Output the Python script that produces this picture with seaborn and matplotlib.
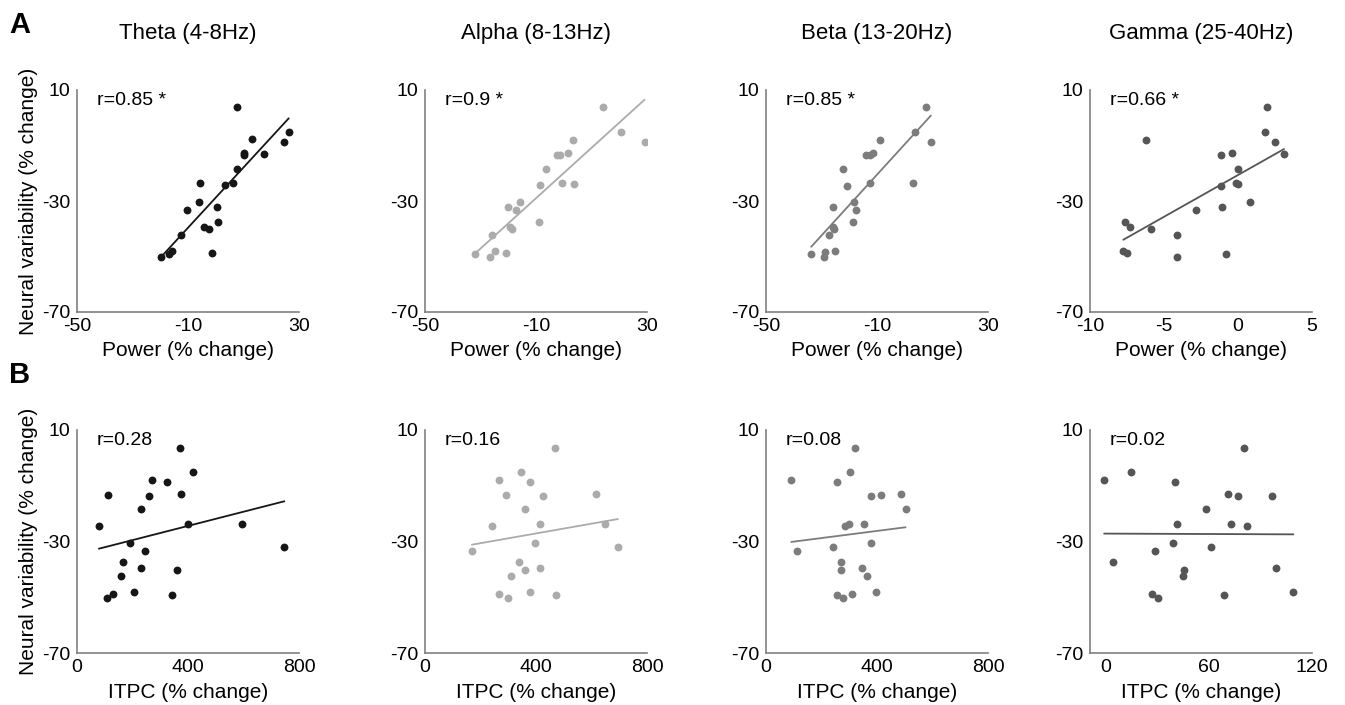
import matplotlib
matplotlib.use("Agg")
import matplotlib.pyplot as plt
import seaborn as sns
import pandas as pd

sns.set_style("white")
plt.rcParams['font.family'] = ['Liberation Sans', 'DejaVu Sans']
plt.rcParams['text.color'] = 'black'
plt.rcParams['axes.labelcolor'] = 'black'

# ---------------- data ----------------
bands = ["Theta (4-8Hz)", "Alpha (8-13Hz)", "Beta (13-20Hz)", "Gamma (25-40Hz)"]
band_colors = ["#161616", "#ababab", "#7c7c7c", "#555555"]

# Row A: power vs neural variability
theta_power = [7.6, 26.3, 13.2, 24.6, 10.0, 10.2, 17.5, 7.5, -5.6, 3.2, 6.3,
               -5.9, 0.3, -10.5, 0.9, -4.3, -2.3, -12.4, -1.5, -15.6, -16.8, -19.9]
theta_power_nv = [4.0, -5.0, -7.7, -8.6, -12.8, -13.5, -13.1, -18.3, -23.6, -24.4, -23.5,
                  -30.4, -32.1, -33.3, -37.5, -39.4, -40.1, -42.2, -48.6, -47.9, -49.2, -50.2]

alpha_power = [14.3, 20.7, 3.4, 29.1, -2.5, -1.3, 1.7, -6.5, -8.4, -0.8, 3.8,
               -15.6, -20.0, -17.3, -8.9, -19.3, -18.6, -25.7, -20.9, -24.7, -26.4, -32.1]
alpha_power_nv = [4.0, -5.0, -7.9, -8.6, -13.5, -13.3, -12.8, -18.3, -24.4, -23.5, -23.7,
                  -30.4, -32.1, -33.3, -37.5, -39.4, -40.1, -42.2, -48.6, -47.9, -50.3, -49.2]

beta_power = [7.8, 3.8, -8.9, 9.4, -14.0, -12.5, -11.3, -22.1, -20.7, -12.6, 3.1,
              -18.4, -25.9, -17.7, -18.6, -25.9, -25.4, -27.4, -25.1, -28.9, -29.0, -33.7]
beta_power_nv = [4.0, -5.0, -7.9, -8.6, -13.6, -13.4, -12.8, -18.3, -24.5, -23.6, -23.6,
                 -30.4, -32.1, -33.3, -37.5, -39.5, -40.1, -42.2, -47.9, -48.5, -50.2, -49.2]

gamma_power = [1.97, 1.83, -6.25, 2.53, -1.15, -0.41, 3.11, 0.02, -1.13, -0.12, -0.03,
               0.78, -1.08, -2.84, -7.64, -7.33, -5.87, -4.09, -0.79, -7.75, -7.48, -4.09]
gamma_power_nv = [4.0, -5.0, -7.9, -8.6, -13.5, -12.8, -13.1, -18.3, -24.5, -23.6, -23.7,
                  -30.4, -32.1, -33.3, -37.5, -39.4, -40.1, -42.2, -49.2, -47.9, -48.6, -50.3]

# Row B: ITPC vs neural variability
theta_itpc = [370, 419, 272, 323, 111, 259, 374, 229, 79, 401, 596,
              190, 747, 244, 164, 231, 360, 157, 205, 128, 343, 108]
theta_itpc_nv = [3.7, -5.2, -8.1, -8.7, -13.3, -13.6, -13.0, -18.4, -24.6, -23.7, -23.7,
                 -30.6, -32.1, -33.3, -37.5, -39.6, -40.1, -42.2, -48.1, -48.7, -49.3, -50.3]

alpha_itpc = [468, 347, 267, 377, 291, 424, 617, 359, 240, 414, 647,
              396, 695, 169, 339, 414, 362, 311, 380, 267, 472, 298]
alpha_itpc_nv = [3.7, -5.2, -8.1, -8.7, -13.4, -13.6, -13.0, -18.4, -24.6, -23.6, -23.8,
                 -30.6, -32.1, -33.3, -37.5, -39.6, -40.3, -42.2, -48.1, -48.7, -49.3, -50.3]

beta_itpc = [319, 301, 91, 257, 380, 414, 485, 503, 283, 299, 354,
             377, 243, 113, 269, 345, 271, 365, 398, 311, 255, 278]
beta_itpc_nv = [3.7, -5.2, -8.1, -8.7, -13.6, -13.4, -13.0, -18.4, -24.6, -23.6, -23.8,
                -30.6, -32.1, -33.3, -37.5, -39.6, -40.3, -42.2, -48.1, -48.7, -49.3, -50.3]

gamma_itpc = [80.2, 15.1, -0.8, 40.6, 71.3, 77.1, 96.6, 58.4, 41.4, 72.7, 82.5,
              39.4, 61.4, 28.8, 4.3, 98.9, 45.4, 45.0, 109.2, 27.1, 68.8, 30.3]
gamma_itpc_nv = [3.7, -5.2, -8.1, -8.7, -13.0, -13.5, -13.6, -18.4, -23.8, -23.6, -24.6,
                 -30.6, -32.1, -33.3, -37.5, -39.6, -40.1, -42.2, -48.1, -48.7, -49.3, -50.3]

r_power = ["r=0.85 *", "r=0.9 *", "r=0.85 *", "r=0.66 *"]
r_itpc = ["r=0.28", "r=0.16", "r=0.08", "r=0.02"]

y_ticks = [10, -30, -70]
power_ticks = [[-50, -10, 30], [-50, -10, 30], [-50, -10, 30], [-10, -5, 0, 5]]
power_lims = [(-50, 30), (-50, 30), (-50, 30), (-10, 5)]
itpc_ticks = [[0, 400, 800], [0, 400, 800], [0, 400, 800], [0, 60, 120]]
itpc_lims = [(0, 800), (0, 800), (0, 800), (-9, 120)]

row_a = [(theta_power, theta_power_nv), (alpha_power, alpha_power_nv),
         (beta_power, beta_power_nv), (gamma_power, gamma_power_nv)]
row_b = [(theta_itpc, theta_itpc_nv), (alpha_itpc, alpha_itpc_nv),
         (beta_itpc, beta_itpc_nv), (gamma_itpc, gamma_itpc_nv)]

# ---------------- figure ----------------
W, H = 1345, 705
fig = plt.figure(figsize=(W / 100, H / 100), dpi=100)

lefts_px = [77, 425, 766, 1090]
width_px = 222
rows_px = [(90, 312), (430, 653)]
spine_col = "#808080"
fs_tick = 14
fs_label = 15


def style_axes(ax, xticks, xlim, xlabel, ylabel):
    ax.set_xlim(*xlim)
    ax.set_ylim(-70, 10)
    ax.set_xticks(xticks)
    ax.set_yticks(y_ticks)
    ax.set_xticklabels([str(t) for t in xticks])
    ax.set_yticklabels([str(t) for t in y_ticks])
    for s in ["top", "right"]:
        ax.spines[s].set_visible(False)
    for s in ["left", "bottom"]:
        ax.spines[s].set_color(spine_col)
        ax.spines[s].set_linewidth(1.2)
    ax.tick_params(axis="both", direction="in", length=3.5, width=1.0,
                   color=spine_col, labelsize=fs_tick, labelcolor="black")
    ax.tick_params(axis="x", pad=4)
    ax.tick_params(axis="y", pad=5)
    ax.set_xlabel(xlabel, fontsize=fs_label, labelpad=5, color="black")
    if ylabel:
        ax.set_ylabel(ylabel, fontsize=fs_label, labelpad=3, color="black")
    else:
        ax.set_ylabel("")


for r, (top, bot) in enumerate(rows_px):
    data_row = row_a if r == 0 else row_b
    for c in range(4):
        ax = fig.add_axes([lefts_px[c] / W, 1 - bot / H, width_px / W, (bot - top) / H])
        x, y = data_row[c]
        df = pd.DataFrame({"x": x, "y": y})
        col = band_colors[c]
        sns.regplot(data=df, x="x", y="y", ax=ax, ci=None, truncate=True,
                    color=col,
                    scatter_kws=dict(s=32, linewidths=0, alpha=1),
                    line_kws=dict(linewidth=1.3, color=col))
        if r == 0:
            style_axes(ax, power_ticks[c], power_lims[c], "Power (% change)",
                       "Neural variability (% change)" if c == 0 else None)
            ax.text(0.09, 0.99, r_power[c], transform=ax.transAxes,
                    fontsize=14, va="top", ha="left", color="black")
            ax.set_title(bands[c], fontsize=16, pad=37, color="black")
        else:
            style_axes(ax, itpc_ticks[c], itpc_lims[c], "ITPC (% change)",
                       "Neural variability (% change)" if c == 0 else None)
            ax.text(0.09, 0.99, r_itpc[c], transform=ax.transAxes,
                    fontsize=14, va="top", ha="left", color="black")

fig.text(20 / W, 1 - 25 / H, "A", fontsize=21, fontweight="bold", ha="center",
         va="center", color="black")
fig.text(20 / W, 1 - 375 / H, "B", fontsize=21, fontweight="bold", ha="center",
         va="center", color="black")

fig.savefig("out.png", dpi=100)
